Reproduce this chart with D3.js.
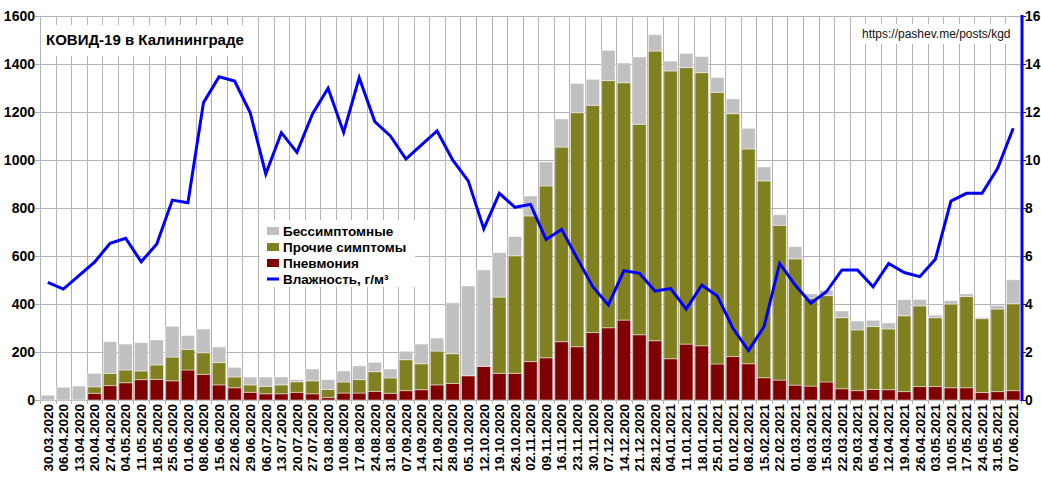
<!DOCTYPE html>
<html><head><meta charset="utf-8">
<script src="https://cdn.jsdelivr.net/npm/d3@7"></script>
<style>
body{margin:0;background:#fff;}
text{font-family:"Liberation Sans",Arial,sans-serif;}
</style></head><body>
<svg id="c" width="1041" height="480"></svg>
<script>
const weeks = ["30.03.2020","06.04.2020","13.04.2020","20.04.2020","27.04.2020","04.05.2020","11.05.2020","18.05.2020","25.05.2020","01.06.2020","08.06.2020","15.06.2020","22.06.2020","29.06.2020","06.07.2020","13.07.2020","20.07.2020","27.07.2020","03.08.2020","10.08.2020","17.08.2020","24.08.2020","31.08.2020","07.09.2020","14.09.2020","21.09.2020","28.09.2020","05.10.2020","12.10.2020","19.10.2020","26.10.2020","02.11.2020","09.11.2020","16.11.2020","23.11.2020","30.11.2020","07.12.2020","14.12.2020","21.12.2020","28.12.2020","04.01.2021","11.01.2021","18.01.2021","25.01.2021","01.02.2021","08.02.2021","15.02.2021","22.02.2021","01.03.2021","08.03.2021","15.03.2021","22.03.2021","29.03.2021","05.04.2021","12.04.2021","19.04.2021","26.04.2021","03.05.2021","10.05.2021","17.05.2021","24.05.2021","31.05.2021","07.06.2021"];
const pneumonia = [0,0,0,28,60,72,85,86,80,125,107,63,51,32,26,26,32,26,10,29,29,36,28,39,43,63,69,101,140,111,111,160,176,243,222,281,301,333,272,247,172,233,226,150,181,151,93,83,62,58,75,47,39,44,43,35,56,56,51,51,31,35,39];
const otherSymptoms = [0,0,0,27,51,53,36,60,99,86,90,93,45,31,31,37,44,54,34,46,56,82,64,129,108,141,124,0,0,318,490,607,716,811,975,947,1030,989,877,1207,1199,1152,1138,1132,1012,895,820,645,526,366,360,296,253,262,253,316,336,287,349,380,308,344,362];
const asymptomatic = [20,53,58,56,132,108,118,104,128,57,99,65,40,33,39,33,9,49,41,46,57,39,37,35,82,54,212,374,402,185,80,83,100,117,122,108,126,82,280,68,41,59,67,62,62,86,58,44,51,18,22,28,37,26,25,67,27,10,14,11,5,15,100];
const humidity = [4.9,4.62,5.18,5.74,6.53,6.74,5.76,6.5,8.33,8.22,12.39,13.47,13.29,11.97,9.42,11.14,10.32,11.92,12.99,11.15,13.43,11.6,11.0,10.04,10.63,11.21,10.0,9.13,7.13,8.61,8.03,8.15,6.69,7.11,5.9,4.72,3.96,5.39,5.28,4.54,4.64,3.79,4.79,4.33,2.99,2.06,3.06,5.69,4.79,4.03,4.51,5.42,5.42,4.72,5.69,5.31,5.14,5.86,8.29,8.61,8.61,9.65,11.32];
const leftTicks = [0,200,400,600,800,1000,1200,1400,1600];
const rightTicks = [0,2,4,6,8,10,12,14,16];
const seriesNames = ["Пневмония","Прочие симптомы","Бессимптомные"];
const seriesColors = ["#800000","#808020","#c0c0c0"];
const lineName = "Влажность, г/м³";
const title = "КОВИД-19 в Калининграде";
const url = "https://pashev.me/posts/kgd";

const svg = d3.select("#c");
const L = 40, R = 1021, T = 16, B = 400;
const x = d3.scaleBand().domain(weeks).range([L, R]).padding(0);
const y = d3.scaleLinear().domain([0,1600]).range([B, T]);
const y2 = d3.scaleLinear().domain([0,16]).range([B, T]);
const bw = x.bandwidth();

const table = weeks.map((w,i)=>({w, p:pneumonia[i], o:otherSymptoms[i], a:asymptomatic[i]}));
const stack = d3.stack().keys(["p","o","a"])(table);

// grid
const g = svg.append("g");
g.selectAll(".hg").data(leftTicks).join("line")
  .attr("x1", L-5).attr("x2", R).attr("y1", d=>y(d)+0.5).attr("y2", d=>y(d)+0.5)
  .attr("stroke","#b3b3b3").attr("stroke-width",1);
const bounds = weeks.map(w=>x(w)).concat([R]);
g.selectAll(".vg").data(bounds).join("line")
  .attr("x1", d=>Math.round(d)+0.5).attr("x2", d=>Math.round(d)+0.5).attr("y1", T).attr("y2", B+4)
  .attr("stroke","#b3b3b3").attr("stroke-width",1);

// bars
stack.forEach((s,k)=>{
  svg.append("g").selectAll("rect").data(s).join("rect")
    .attr("x", d=>x(d.data.w)+bw*0.07)
    .attr("width", bw*0.86)
    .attr("y", d=>y(d[1]))
    .attr("height", d=>Math.max(0, y(d[0])-y(d[1])))
    .attr("fill", seriesColors[k])
    .attr("stroke", "rgba(255,255,255,0.45)").attr("stroke-width",1);
});

// line
const line = d3.line().x((d,i)=>x(weeks[i])+bw/2).y(d=>y2(d));
svg.append("path").datum(humidity).attr("d", line)
  .attr("fill","none").attr("stroke","#0000ff").attr("stroke-width",3).attr("stroke-linejoin","miter");

// left axis labels
svg.append("g").selectAll("text").data(leftTicks).join("text")
  .attr("x", 35).attr("y", d=>y(d)).attr("dy","0.35em").attr("text-anchor","end")
  .attr("font-size",14).attr("font-weight","bold").attr("fill","#000").text(d=>d);

// right axis
svg.append("line").attr("x1",R+1).attr("x2",R+1).attr("y1",T-1).attr("y2",B+1)
  .attr("stroke","#0000ff").attr("stroke-width",3);
svg.append("g").selectAll("line").data(rightTicks).join("line")
  .attr("x1",R+1).attr("x2",R+5).attr("y1",d=>y2(d)+0.5).attr("y2",d=>y2(d)+0.5)
  .attr("stroke","#0000ff").attr("stroke-width",1);
svg.append("g").selectAll("text").data(rightTicks).join("text")
  .attr("x", 1025).attr("y", d=>y2(d)).attr("dy","0.35em")
  .attr("font-size",13.8).attr("font-weight","bold").attr("fill","#000").text(d=>d);

// x labels
svg.append("g").selectAll("text").data(weeks).join("text")
  .attr("transform", d=>`translate(${x(d)+bw/2},${B+4}) rotate(-90)`)
  .attr("dy","0.35em").attr("text-anchor","end")
  .attr("font-size",13.5).attr("font-weight","bold").attr("fill","#000").text(d=>d);

// title box
svg.append("rect").attr("x",41).attr("y",25).attr("width",209).attr("height",31).attr("fill","#fff");
svg.append("text").attr("x",46).attr("y",45).attr("font-size",15).attr("font-weight","bold").text(title);

// url box
svg.append("rect").attr("x",855).attr("y",24).attr("width",159).attr("height",20).attr("fill","#fff");
svg.append("text").attr("x",862).attr("y",38).attr("font-size",12).attr("fill","#111").text(url);

// legend
const lg = svg.append("g");
lg.append("rect").attr("x",260).attr("y",220).attr("width",155).attr("height",67).attr("fill","#fff");
const items = [{n:seriesNames[2],c:seriesColors[2]},{n:seriesNames[1],c:seriesColors[1]},{n:seriesNames[0],c:seriesColors[0]},{n:lineName,c:"#0000ff",line:true}];
items.forEach((it,i)=>{
  const cy = 231 + i*16;
  if(it.line){
    lg.append("line").attr("x1",267).attr("x2",279).attr("y1",cy).attr("y2",cy).attr("stroke",it.c).attr("stroke-width",3);
  } else {
    lg.append("rect").attr("x",267).attr("y",cy-4).attr("width",12).attr("height",8).attr("fill",it.c);
  }
  lg.append("text").attr("x",283).attr("y",cy).attr("dy","0.36em").attr("font-size",13.5).attr("font-weight","bold").text(it.n);
});
</script></body></html>
